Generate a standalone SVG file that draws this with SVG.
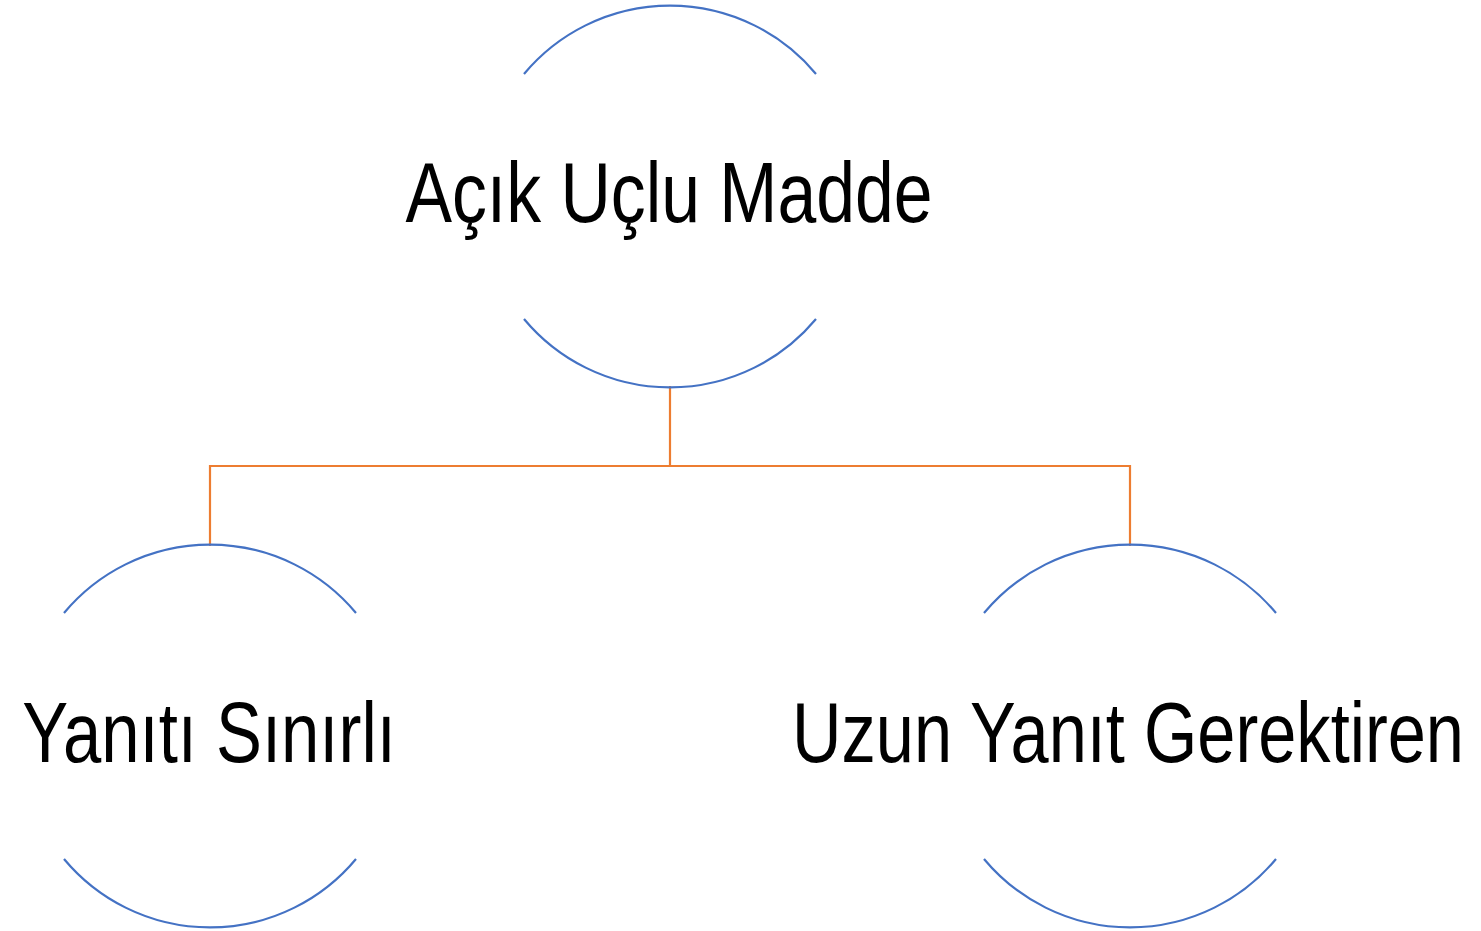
<svg xmlns="http://www.w3.org/2000/svg" width="1481" height="931" viewBox="0 0 1481 931">
<style>
.arc{fill:none;stroke:#4472C4;stroke-width:2.2}
.conn{fill:none;stroke:#ED7D31;stroke-width:2.2}
.lbl{font-family:"Liberation Sans",Arial,sans-serif;font-size:85px;fill:#000;text-anchor:middle}
</style>
<rect width="1481" height="931" fill="#fff"/>
<g id="connectors">
<path class="conn" d="M670,386 V466 M210,546 V466 H1130 V546"/>
</g>
<g id="node-root">
<path class="arc" d="M524,74 A190,190 0 0 1 816,74"/>
<path class="arc" d="M524,319 A190,190 0 0 0 816,319"/>
<text class="lbl" transform="translate(669,222) scale(0.8,1)" x="0" y="0" textLength="659" lengthAdjust="spacingAndGlyphs">Açık Uçlu Madde</text>
</g>
<g id="node-left">
<path class="arc" d="M64,613 A190,190 0 0 1 356,613"/>
<path class="arc" d="M64,859 A190,190 0 0 0 356,859"/>
<text class="lbl" transform="translate(209,762) scale(0.8,1)" x="0" y="0" textLength="467" lengthAdjust="spacingAndGlyphs">Yanıtı Sınırlı</text>
</g>
<g id="node-right">
<path class="arc" d="M984,613 A190,190 0 0 1 1276,613"/>
<path class="arc" d="M984,859 A190,190 0 0 0 1276,859"/>
<text class="lbl" transform="translate(1128,762) scale(0.8,1)" x="0" y="0" textLength="840" lengthAdjust="spacingAndGlyphs">Uzun Yanıt Gerektiren</text>
</g>
</svg>
